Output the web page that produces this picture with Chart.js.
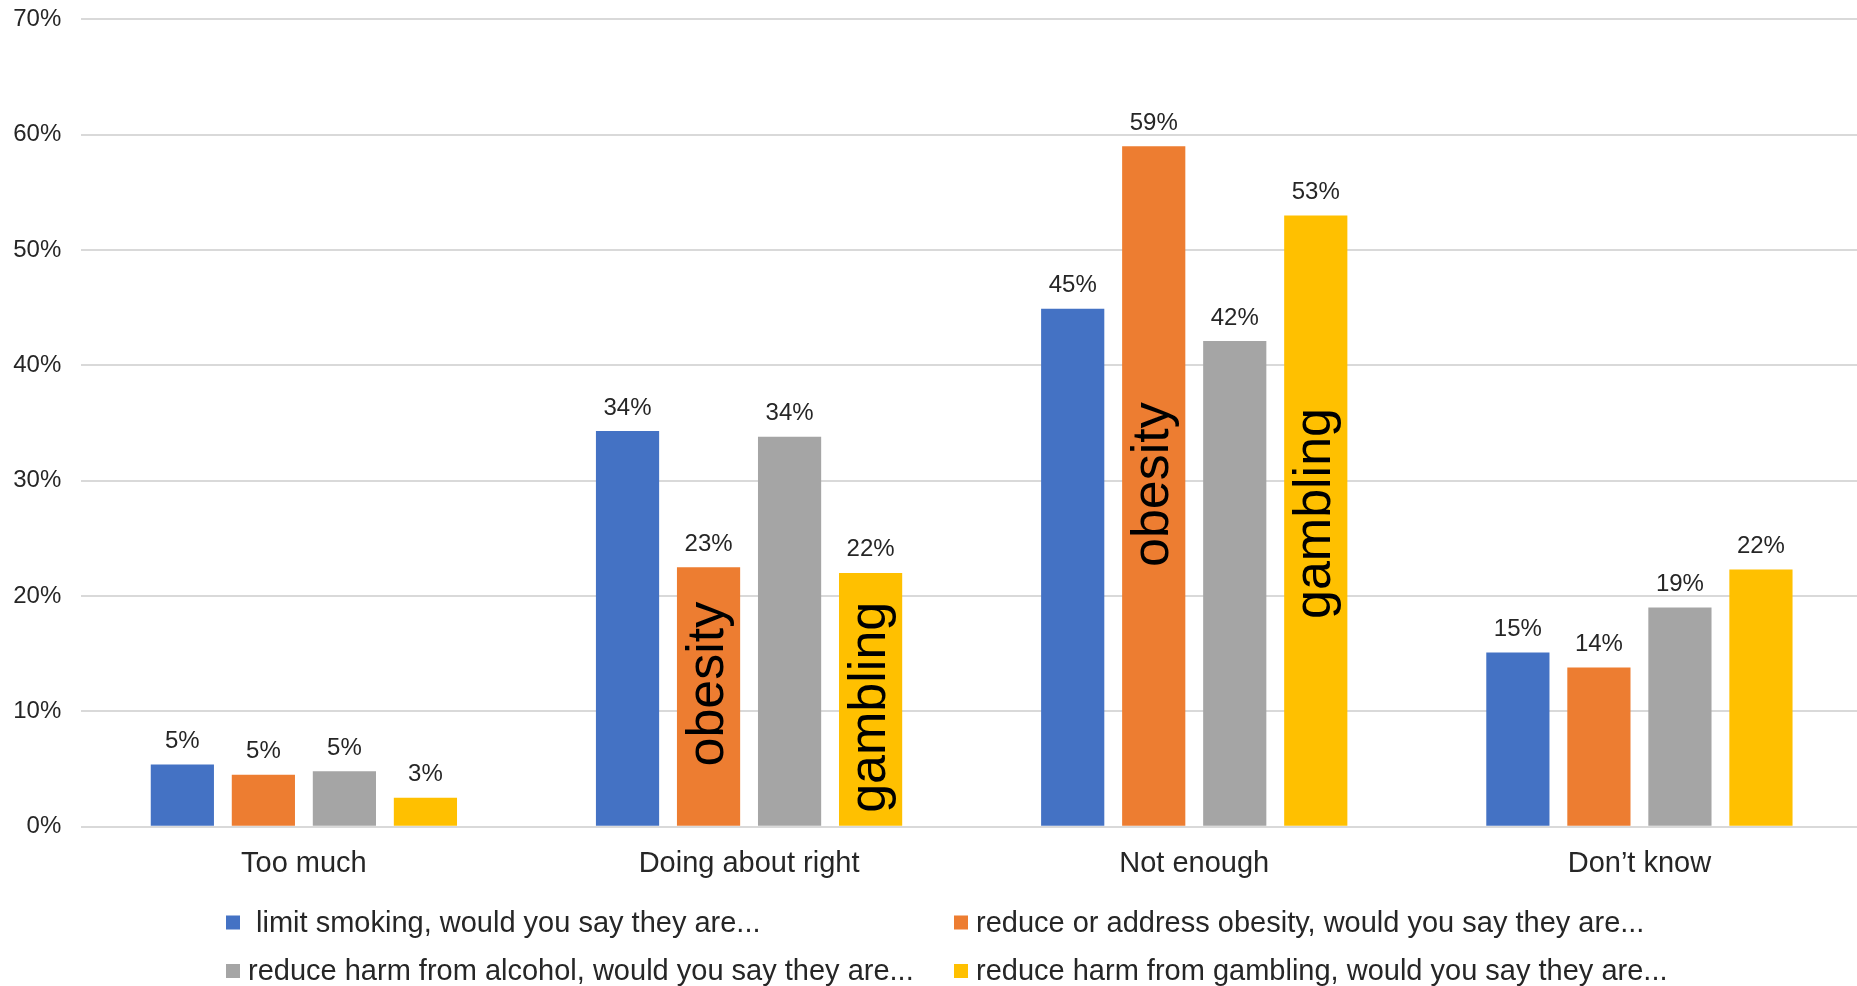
<!DOCTYPE html>
<html lang="en">
<head>
<meta charset="UTF-8">
<title>Survey responses</title>
<script src="https://cdn.jsdelivr.net/npm/chart.js@4.4.0/dist/chart.umd.min.js"></script>
<style>
  * { box-sizing: border-box; margin: 0; padding: 0; }
  html, body { background: #fff; overflow: hidden; width: 1857px; height: 986px; }
  #wrap { position: absolute; left: 0; top: 0; width: 1862px; height: 986px; }
</style>
</head>
<body>
<div id="wrap"><canvas id="chart" width="1862" height="986"></canvas></div>
<script>
const FONT = '"Liberation Sans", Arial, sans-serif';

// categories and series
const categories = ['Too much', 'Doing about right', 'Not enough', 'Don\u2019t know'];
const seriesNames = [
  ' limit smoking, would you say they are...',
  'reduce or address obesity, would you say they are...',
  'reduce harm from alcohol, would you say they are...',
  'reduce harm from gambling, would you say they are...'
];
const smoking  = [5.4, 34.3, 44.9, 15.1];
const obesity  = [4.5, 22.5, 59.0, 13.8];
const alcohol  = [4.8, 33.8, 42.1, 19.0];
const gambling = [2.5, 22.0, 53.0, 22.3];
const seriesColors = ['#4472C4', '#ED7D31', '#A5A5A5', '#FFC000'];
const yTicks = [0, 10, 20, 30, 40, 50, 60, 70];

// words written up the side of some bars (dataset, category, top of text in %)
const barNotes = [
  { ds: 1, idx: 1, text: 'obesity', top: 19.5 },
  { ds: 3, idx: 1, text: 'gambling', top: 19.5 },
  { ds: 1, idx: 2, text: 'obesity', top: 36.8 },
  { ds: 3, idx: 2, text: 'gambling', top: 36.3 }
];

const pct = v => Math.round(v) + '%';

// value labels above the bars
const valueLabels = {
  id: 'valueLabels',
  afterDatasetsDraw(chart) {
    const ctx = chart.ctx;
    ctx.save();
    ctx.font = '24px ' + FONT;
    ctx.fillStyle = '#262626';
    ctx.textAlign = 'center';
    ctx.textBaseline = 'alphabetic';
    chart.data.datasets.forEach((ds, i) => {
      chart.getDatasetMeta(i).data.forEach((bar, j) => {
        ctx.fillText(pct(ds.data[j]), bar.x, bar.y - 16.5);
      });
    });
    ctx.restore();
  }
};

// rotated notes inside bars
const barText = {
  id: 'barText',
  afterDatasetsDraw(chart) {
    const ctx = chart.ctx;
    const y = chart.scales.y;
    ctx.save();
    ctx.font = '52px ' + FONT;
    ctx.fillStyle = '#000';
    ctx.textAlign = 'right';
    ctx.textBaseline = 'alphabetic';
    barNotes.forEach(n => {
      const bar = chart.getDatasetMeta(n.ds).data[n.idx];
      ctx.save();
      ctx.translate(bar.x + 14, y.getPixelForValue(n.top));
      ctx.rotate(-Math.PI / 2);
      ctx.fillText(n.text, 0, 0);
      ctx.restore();
    });
    ctx.restore();
  }
};

// two-column legend under the axis
const gridLegend = {
  id: 'gridLegend',
  afterDraw(chart) {
    const ctx = chart.ctx;
    const colX = [226, 954];
    const rowBase = [931.5, 980];
    ctx.save();
    ctx.font = '29px ' + FONT;
    ctx.textAlign = 'left';
    ctx.textBaseline = 'alphabetic';
    chart.data.datasets.forEach((ds, i) => {
      const x = colX[i % 2];
      const base = rowBase[Math.floor(i / 2)];
      ctx.fillStyle = ds.backgroundColor;
      ctx.fillRect(x, base - 16, 14, 14);
      ctx.fillStyle = '#262626';
      ctx.fillText(ds.label, x + 22, base);
    });
    ctx.restore();
  }
};

const seriesData = [smoking, obesity, alcohol, gambling];

new Chart(document.getElementById('chart'), {
  type: 'bar',
  data: {
    labels: categories,
    datasets: seriesData.map((d, i) => ({
      label: seriesNames[i],
      data: d,
      backgroundColor: seriesColors[i],
      borderWidth: 0,
      categoryPercentage: 0.728,
      barPercentage: 0.78
    }))
  },
  options: {
    responsive: false,
    animation: false,
    devicePixelRatio: 1,
    layout: { padding: { top: 19.3, right: 0, left: 0, bottom: 0 } },
    plugins: { legend: { display: false }, tooltip: { enabled: false } },
    scales: {
      x: {
        grid: { display: false, drawTicks: false },
        border: { display: false },
        ticks: { color: '#262626', font: { family: FONT, size: 29 }, padding: 20 },
        afterFit(scale) { scale.height = 159.3; scale.paddingLeft = 0; scale.paddingRight = 0; }
      },
      y: {
        min: 0,
        max: 70,
        afterBuildTicks(scale) { scale.ticks = yTicks.map(v => ({ value: v })); },
        grid: { color: '#D9D9D9', lineWidth: 2, drawTicks: false },
        border: { display: false },
        ticks: { color: '#262626', font: { family: FONT, size: 24 }, padding: 20, callback: v => v + '%' },
        afterFit(scale) { scale.width = 81.3; scale.paddingTop = 0; scale.paddingBottom = 0; }
      }
    }
  },
  plugins: [valueLabels, barText, gridLegend]
});
</script>
</body>
</html>
